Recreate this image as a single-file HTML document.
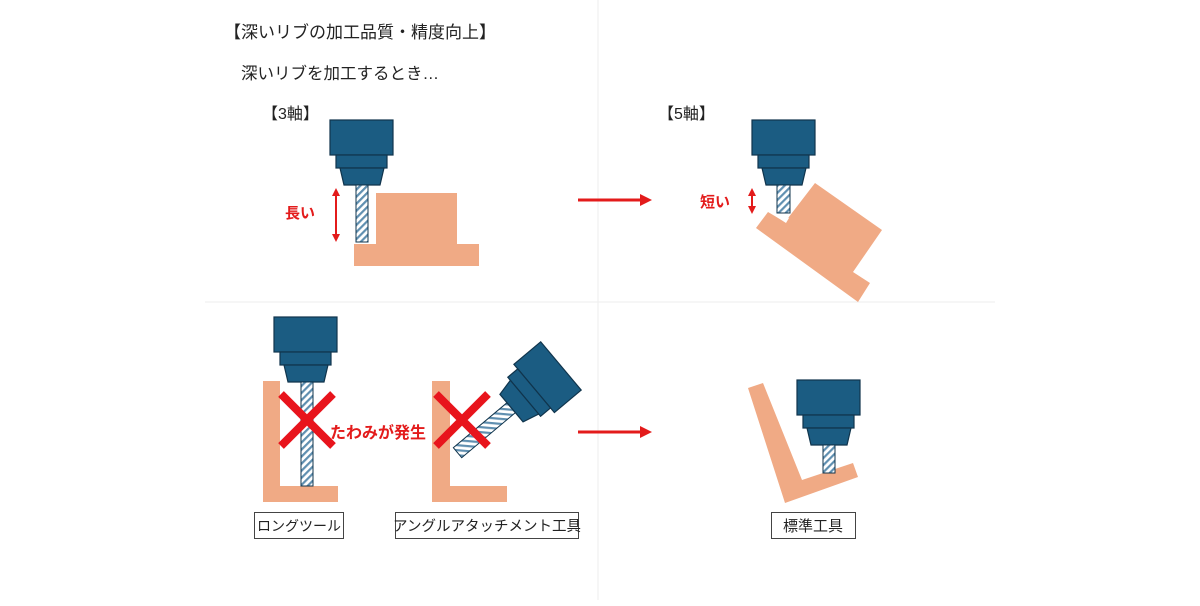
<!DOCTYPE html>
<html><head><meta charset="utf-8"><style>
html,body{margin:0;padding:0;background:#fff;}
svg{display:block;font-family:"Liberation Sans","Noto Sans CJK JP",sans-serif;}
</style></head><body>
<svg width="1200" height="606" viewBox="0 0 1200 606" xmlns="http://www.w3.org/2000/svg">
<defs>
<pattern id="h" width="5" height="5" patternUnits="userSpaceOnUse" patternTransform="rotate(45)">
<rect width="5" height="5" fill="#fff"/><rect width="2.2" height="5" fill="#5f8fb0"/>
</pattern>
<g id="sp">
<rect x="0" y="0" width="63" height="35" fill="#1b5c82" stroke="#10344c" stroke-width="1.2"/>
<rect x="6" y="35" width="51" height="13" fill="#1b5c82" stroke="#10344c" stroke-width="1.2"/>
<polygon points="10,48 54,48 50,65 14,65" fill="#1b5c82" stroke="#10344c" stroke-width="1.2"/>
</g>
<marker id="ah" markerWidth="8" markerHeight="8" refX="4" refY="4" orient="auto-start-reverse" markerUnits="userSpaceOnUse"><path d="M0,0 L8,4 L0,8z" fill="#e31b1b"/></marker>
</defs>
<line x1="205" y1="302" x2="995" y2="302" stroke="#eee" stroke-width="1"/>
<line x1="598" y1="0" x2="598" y2="600" stroke="#eee" stroke-width="1"/>

<text x="224" y="38" font-size="17" fill="#222">【深いリブの加工品質・精度向上】</text>
<text x="241" y="79" font-size="16.5" fill="#222">深いリブを加工するとき…</text>
<text x="262" y="119" font-size="16" fill="#222">【3軸】</text>
<text x="658" y="119" font-size="16" fill="#222">【5軸】</text>

<!-- 3 axis -->
<polygon points="376,193 457,193 457,244 479,244 479,266 354,266 354,244 376,244" fill="#f0aa85"/>
<use href="#sp" x="330" y="120"/>
<rect x="356" y="185" width="12" height="57" fill="url(#h)" stroke="#10344c" stroke-width="1"/>
<line x1="336" y1="192" x2="336" y2="238" stroke="#e31b1b" stroke-width="2" marker-start="url(#ah)" marker-end="url(#ah)"/>
<text x="285" y="218" font-size="15" font-weight="bold" fill="#e31b1b">長い</text>

<line x1="578" y1="200" x2="642" y2="200" stroke="#e31b1b" stroke-width="3"/>
<polygon points="640,194 652,200 640,206" fill="#e31b1b"/>

<!-- 5 axis -->
<polygon points="756,228 768,212 785,222 815,183 882,230 853,272 870,283 858,302" fill="#f0aa85"/>
<polygon points="772,214 786,223 789,218 775,210" fill="#fff"/>
<use href="#sp" x="752" y="120"/>
<rect x="777" y="185" width="13" height="28" fill="url(#h)" stroke="#10344c" stroke-width="1"/>
<line x1="752" y1="192" x2="752" y2="210" stroke="#e31b1b" stroke-width="2" marker-start="url(#ah)" marker-end="url(#ah)"/>
<text x="700" y="207" font-size="15" font-weight="bold" fill="#e31b1b">短い</text>

<!-- long tool -->
<polygon points="263,381 280,381 280,486 338,486 338,502 263,502" fill="#f0aa85"/>
<use href="#sp" x="274" y="317"/>
<rect x="301" y="382" width="12" height="104" fill="url(#h)" stroke="#10344c" stroke-width="1"/>
<path d="M281,394 L333,446 M333,394 L281,446" stroke="#e8141c" stroke-width="8"/>
<text x="330" y="438" font-size="16" font-weight="bold" fill="#e31b1b">たわみが発生</text>
<rect x="254.5" y="512.5" width="89" height="26" fill="#fff" stroke="#444"/>
<text x="299" y="531" font-size="14" fill="#222" text-anchor="middle">ロングツール</text>

<!-- angle attachment -->
<polygon points="432,381 450,381 450,486 507,486 507,502 432,502" fill="#f0aa85"/>
<g transform="translate(456,454) rotate(50)">
<rect x="-6.5" y="-72" width="13" height="70" fill="url(#h)" stroke="#10344c" stroke-width="1"/>
<use href="#sp" x="-31.5" y="-137"/>
</g>
<path d="M436,394 L488,446 M488,394 L436,446" stroke="#e8141c" stroke-width="8"/>
<rect x="395.5" y="512.5" width="183" height="26" fill="#fff" stroke="#444"/>
<text x="487" y="531" font-size="14.5" fill="#222" text-anchor="middle">アングルアタッチメント工具</text>

<line x1="578" y1="432" x2="642" y2="432" stroke="#e31b1b" stroke-width="3"/>
<polygon points="640,426 652,432 640,438" fill="#e31b1b"/>

<!-- standard tool -->
<polygon points="748,388 763,383 802,480 853,463 858,477 785,503" fill="#f0aa85"/>
<use href="#sp" x="797" y="380"/>
<rect x="823" y="445" width="12" height="28" fill="url(#h)" stroke="#10344c" stroke-width="1"/>
<rect x="771.5" y="512.5" width="84" height="26" fill="#fff" stroke="#444"/>
<text x="813" y="531" font-size="15" fill="#222" text-anchor="middle">標準工具</text>
</svg>
</body></html>
